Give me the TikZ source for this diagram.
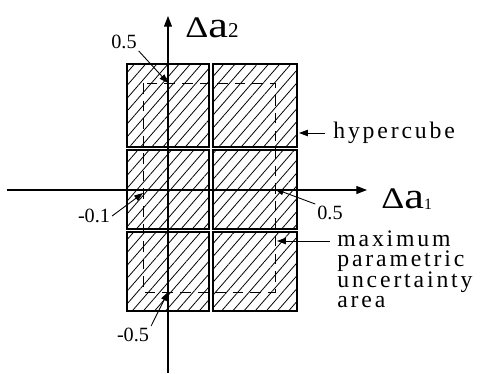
\documentclass[tikz,border=0pt]{standalone}
\usepackage{fontspec}
\setmainfont{Liberation Serif}
\newfontfamily\spaced{Liberation Serif}[LetterSpace=12]
\usepackage{tikz}
\usepackage{xcolor}
\usetikzlibrary{shapes,arrows,arrows.meta,positioning,fit,calc,patterns.meta}

\begin{document}
\begin{tikzpicture}[x=0.02cm, y=-0.02cm, font=\fontsize{11.5}{12}\selectfont,
        cube/.style={draw, line width=0.8pt,
            pattern={Lines[angle=49, distance=4.8pt, line width=0.45pt]}},
        area/.style={dash pattern=on 6pt off 4pt, line width=0.5pt},
        axis/.style={line width=0.6pt, -{Triangle[length=6pt, width=4.5pt]}},
        lbl/.style={line width=0.5pt, -{Triangle[length=5pt, width=3.6pt]}},
        num/.style={inner sep=1pt},
        word/.style={font=\spaced\fontsize{13.5}{12}\selectfont, inner sep=0pt}]
        \useasboundingbox (0,0) rectangle (483,373);
        % hypercubes, two columns by three rows
        \foreach \xa/\xb in {127/209, 213/297}
            \foreach \ya/\yb in {64/147, 150/229, 232/311}
                \path[cube] (\xa,\ya) rectangle (\xb,\yb);
        % maximum parametric uncertainty area
        \draw[area] (143,83) rectangle (275,292);
        % axes
        \coordinate (xL) at (7,190);
        \coordinate (xR) at (367,190);
        \coordinate (yB) at (168,373);
        \coordinate (yT) at (168,16);
        \draw[axis] (xL) -- (xR);
        \draw[axis] (yB) -- (yT);
        \node (a1) [anchor=base west, inner sep=0pt] at (381,208)
            {\scalebox{1.2}[1]{\fontsize{17}{17}\selectfont Δ\fontsize{21}{21}\selectfont a}\fontsize{9}{9}\selectfont\raisebox{-1pt}{1}};
        \node (a2) [anchor=base west, inner sep=0pt] at (185,37)
            {\scalebox{1.2}[1]{\fontsize{17}{17}\selectfont Δ\fontsize{21}{21}\selectfont a}\fontsize{12}{12}\selectfont 2};
        % corners of the area
        \coordinate (cT) at (168,83);
        \coordinate (cL) at (143,193);
        \coordinate (cR) at (275,189);
        \coordinate (cB) at (168,292);
        \node (n05t) [num] at (124,42) {0.5};
        \node (n01) [num] at (94,216) {-0.1};
        \node (n05r) [num] at (330,213) {0.5};
        \node (n05b) [num] at (133,335) {-0.5};
        \draw[lbl] (n05t.south east) -- (cT);
        \draw[lbl] (n01.east) -- (cL);
        \draw[lbl] (n05r.north west) -- (cR);
        \draw[lbl] (n05b.north east) -- (cB);
        % legend
        \coordinate (tH) at (299,133);
        \coordinate (tM) at (277,241);
        \node (hyp) [word, anchor=base west] at (333,138) {hypercube};
        \foreach \w [count=\i] in {maximum, parametric, uncertainty, area}
            \node (mpu\i) [word, anchor=base west] at (337,225.5+20.5*\i) {\w};
        \draw[lbl, shorten <=4.5pt] (hyp.west |- tH) -- (tH);
        \draw[lbl, shorten <=4pt] (mpu1.west |- tM) -- (tM);
\end{tikzpicture}
\end{document}
